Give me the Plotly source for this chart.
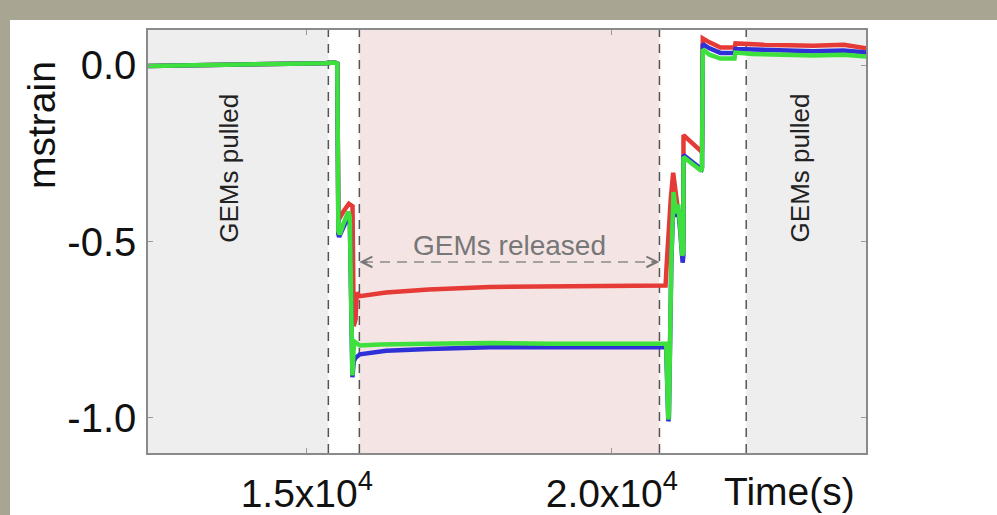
import plotly.graph_objects as go

# ---- data ----
t_red = [12400, 13200, 14000, 14800, 15300, 15460, 15500, 15518, 15545, 15600, 15690, 15750, 15770, 15800, 15820, 15870,
         16300, 17000, 18000, 19000, 20000, 20880, 20900, 20930, 20965, 21005, 21045, 21090, 21120, 21160, 21172, 21174,
         21470, 21478, 21490, 21600, 21780, 22010, 22025, 22500, 23000, 23300, 23800, 24170]
v_red = [-0.002, 0.000, 0.000, 0.003, 0.006, 0.008, 0.005, -0.44, -0.43, -0.415, -0.393, -0.40, -0.74, -0.72, -0.645, -0.655,
         -0.645, -0.636, -0.629, -0.627, -0.625, -0.625, -0.56, -0.45, -0.38, -0.305, -0.37, -0.42, -0.44, -0.50, -0.50, -0.198,
         -0.245, -0.24, 0.076, 0.065, 0.050, 0.050, 0.062, 0.058, 0.056, 0.055, 0.058, 0.048]

t_blue = [12400, 13200, 14000, 14800, 15300, 15460, 15500, 15518, 15530, 15600, 15682, 15705, 15738, 15748, 15770, 15800, 15870,
          16300, 17000, 18000, 19000, 20000, 20860, 20890, 20925, 20935, 20975, 21010, 21055, 21087, 21120, 21160, 21172, 21174,
          21470, 21478, 21490, 21600, 21780, 22010, 22025, 22500, 23000, 23300, 23800, 24170]
v_blue = [-0.002, 0.000, 0.000, 0.003, 0.006, 0.008, 0.005, -0.48, -0.487, -0.46, -0.43, -0.44, -0.875, -0.885, -0.84, -0.83, -0.82,
          -0.81, -0.805, -0.80, -0.80, -0.80, -0.80, -0.80, -1.01, -1.0, -0.56, -0.37, -0.43, -0.41, -0.47, -0.56, -0.54, -0.255,
          -0.295, -0.29, 0.060, 0.048, 0.035, 0.035, 0.046, 0.044, 0.042, 0.040, 0.042, 0.036]

t_green = [12400, 13200, 14000, 14800, 15300, 15460, 15500, 15518, 15540, 15600, 15682, 15705, 15738, 15748, 15770, 15792, 15870,
           16200, 17000, 18000, 19000, 20000, 20860, 20890, 20925, 20935, 20975, 21010, 21055, 21087, 21120, 21152, 21172, 21174,
           21470, 21478, 21490, 21600, 21780, 22010, 22025, 22300, 22800, 23300, 23800, 24170]
v_green = [-0.002, 0.000, 0.000, 0.003, 0.006, 0.008, 0.005, -0.47, -0.48, -0.45, -0.415, -0.43, -0.87, -0.88, -0.80, -0.785, -0.795,
           -0.792, -0.790, -0.788, -0.790, -0.790, -0.790, -0.790, -1.005, -0.99, -0.55, -0.36, -0.42, -0.395, -0.46, -0.54, -0.53, -0.26,
           -0.30, -0.29, 0.045, 0.030, 0.019, 0.019, 0.036, 0.032, 0.030, 0.028, 0.030, 0.025]

event_lines = [15354, 15862, 20780, 22202]
pulled_regions = [(12398, 15354), (22202, 24165)]
released_region = (15862, 20780)

x_tickvals = [15000, 20000]
x_ticktext = ["1.5x10<sup>4</sup>", "2.0x10<sup>4</sup>"]
y_tickvals = [-1.0, -0.5, 0.0]
y_ticktext = ["-1.0", "-0.5", "0.0"]

FONT = "Liberation Sans, Arial, sans-serif"

fig = go.Figure()
for t, v, c in [(t_red, v_red, "#e63a36"), (t_blue, v_blue, "#3030d8"), (t_green, v_green, "#3ee03e")]:
    fig.add_trace(go.Scatter(x=t, y=v, mode="lines", line=dict(color=c, width=4.5), hoverinfo="skip"))

shapes = []
# beige textured frame (top and left strips)
shapes.append(dict(type="rect", xref="paper", yref="paper", x0=-0.2061, x1=1.1825, y0=1.02364, y1=1.0709,
                   fillcolor="#a8a692", line_width=0, layer="below"))
shapes.append(dict(type="rect", xref="paper", yref="paper", x0=-0.2061, x1=-0.1922, y0=-0.1466, y1=1.0709,
                   fillcolor="#a8a692", line_width=0, layer="below"))
for a, b in pulled_regions:
    shapes.append(dict(type="rect", xref="x", yref="paper", x0=a, x1=b, y0=0, y1=1,
                       fillcolor="#eeeeee", line_width=0, layer="below"))
shapes.append(dict(type="rect", xref="x", yref="paper", x0=released_region[0], x1=released_region[1], y0=0, y1=1,
                   fillcolor="#f4e4e4", line_width=0, layer="below"))
for xv in event_lines:
    shapes.append(dict(type="line", xref="x", yref="paper", x0=xv, x1=xv, y0=0, y1=1,
                       line=dict(color="#555555", width=1.5, dash="9px,7px"), layer="below"))
# dashed arrow shaft
shapes.append(dict(type="line", xref="x", yref="y", x0=released_region[0] + 60, x1=released_region[1] - 60,
                   y0=-0.558, y1=-0.558, line=dict(color="#8a8a8a", width=1.5, dash="10px,7px")))
fig.update_layout(shapes=shapes)

ann = []
ann.append(dict(text="mstrain", xref="paper", yref="paper", x=-0.149, y=0.7754, textangle=-90, showarrow=False,
                font=dict(family=FONT, size=39, color="#111111"), xanchor="center", yanchor="middle"))
ann.append(dict(text="Time(s)", xref="paper", yref="paper", x=0.8928, y=-0.092, showarrow=False,
                font=dict(family=FONT, size=39, color="#111111"), xanchor="center", yanchor="middle"))
for xc in [13734, 23087]:
    ann.append(dict(text="GEMs pulled", xref="x", yref="y", x=xc, y=-0.292, textangle=-90, showarrow=False,
                    font=dict(family=FONT, size=26, color="#222222"), xanchor="center", yanchor="middle"))
ann.append(dict(text="GEMs released", xref="x", yref="y", x=18316, y=-0.51, showarrow=False,
                font=dict(family=FONT, size=28, color="#777777"), xanchor="center", yanchor="middle"))
# arrow heads
ann.append(dict(text="", x=released_region[0], y=-0.558, ax=released_region[0] + 160, ay=-0.558, axref="x", ayref="y",
                xref="x", yref="y", showarrow=True, arrowhead=5, arrowsize=1.4, arrowwidth=1.5, arrowcolor="#777777"))
ann.append(dict(text="", x=released_region[1], y=-0.558, ax=released_region[1] - 160, ay=-0.558, axref="x", ayref="y",
                xref="x", yref="y", showarrow=True, arrowhead=5, arrowsize=1.4, arrowwidth=1.5, arrowcolor="#777777"))
fig.update_layout(annotations=ann)

fig.update_layout(
    width=997, height=515,
    margin=dict(l=148, r=131, t=30, b=62, autoexpand=False),
    paper_bgcolor="white", plot_bgcolor="white",
    showlegend=False,
    font=dict(family=FONT, color="#111111"),
)
fig.update_xaxes(range=[12398, 24165], tickvals=x_tickvals, ticktext=x_ticktext, automargin=False,
                 tickfont=dict(family=FONT, size=39, color="#111111"),
                 showgrid=False, zeroline=False, showline=True, linecolor="#8a8a8a", linewidth=1.5,
                 mirror="ticks", ticks="inside", ticklen=5, tickcolor="#999999", ticklabelstandoff=5)
fig.update_yaxes(range=[-1.1, 0.1], tickvals=y_tickvals, ticktext=y_ticktext, automargin=False,
                 tickfont=dict(family=FONT, size=40, color="#111111"),
                 showgrid=False, zeroline=False, showline=True, linecolor="#8a8a8a", linewidth=1.5,
                 mirror="ticks", ticks="inside", ticklen=5, tickcolor="#999999", ticklabelstandoff=2)

fig.write_html("out.html", config={"displayModeBar": False},
               post_script="document.body.style.margin='0px';document.body.style.overflow='hidden';")
